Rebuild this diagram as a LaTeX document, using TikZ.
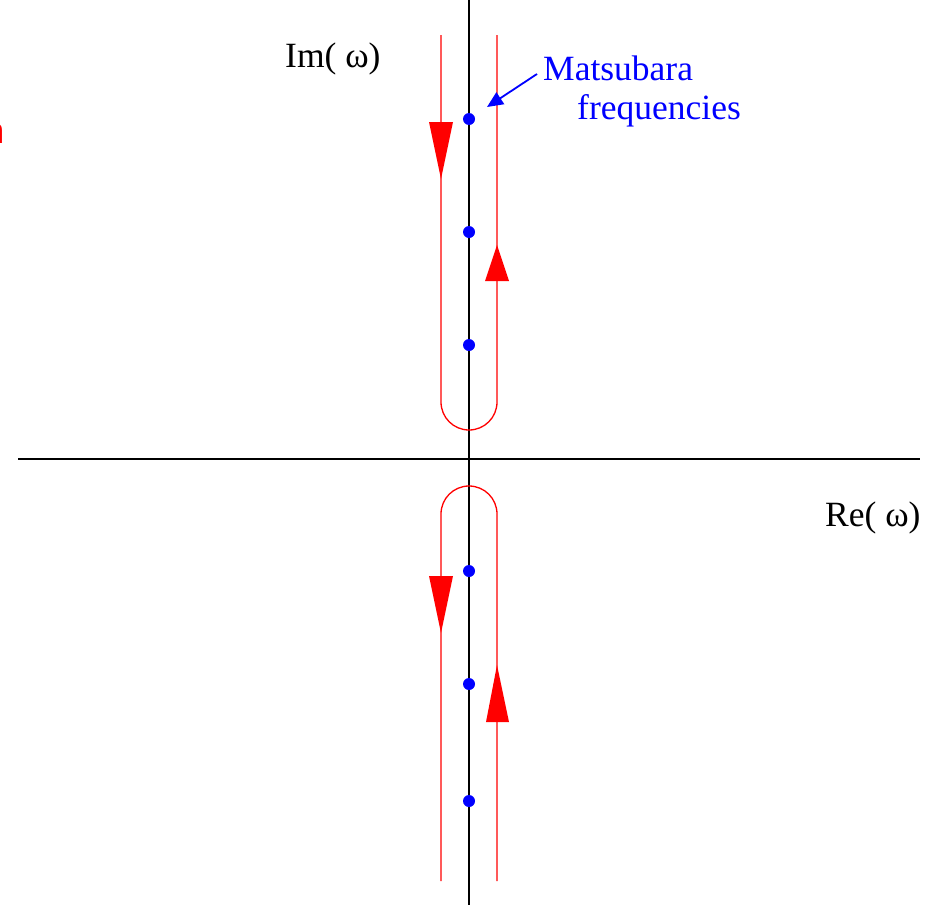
\documentclass[tikz,border=0pt]{standalone}
\usepackage{fontspec}
\setmainfont{Liberation Serif}
\newfontfamily\sansfam{Liberation Sans}
\usetikzlibrary{arrows.meta}
\definecolor{cred}{RGB}{255,0,0}
\definecolor{cblue}{RGB}{0,0,255}
\tikzset{
  contour/.style={draw=cred, line width=1.3pt},
  axisline/.style={draw=black, line width=1.3pt},
  pole/.style={fill=cblue},
  redhead/.style={fill=cred},
  lbl/.style={inner sep=0pt, anchor=base west, font=\fontsize{35.5}{40}\selectfont},
  bluelbl/.style={lbl, text=cblue},
}
\begin{document}
\begin{tikzpicture}[x=1pt,y=-1pt]
\useasboundingbox (0,0) rectangle (944,905);
% axes
\draw[axisline] (469,0) -- (469,905);
\draw[axisline] (18,459) -- (920,459);
% upper contour
\draw[contour] (441,35) -- (441,402) arc[start angle=180, end angle=360, x radius=28, y radius=-28] -- (497,35);
% lower contour
\draw[contour] (441,881) -- (441,514) arc[start angle=180, end angle=0, x radius=28, y radius=-28] -- (497,881);
% arrowheads
\fill[redhead] (429,122) -- (453,122) -- (441,179) -- cycle;
\fill[redhead] (485,281) -- (509,281) -- (497,245) -- cycle;
\fill[redhead] (429,576) -- (453,576) -- (441,633) -- cycle;
\fill[redhead] (486,722) -- (509,722) -- (497,665) -- cycle;
% poles
\foreach \yy in {119,232,345,571,684,801}
  \fill[pole] (469,\yy) circle[radius=6];
% labels
\node[lbl] (im) at (285,67) {Im( ω)};
\node[lbl] (re) at (825,526) {Re( ω)};
\node[bluelbl] (mats) at (543,80) {Matsubara};
\node[bluelbl] (freq) at (577,119) {frequencies};
\node[inner sep=0pt, anchor=base east, text=cred, font=\sansfam\fontsize{36}{40}\selectfont] (frag) at (4.6,143) {n};
\coordinate (tip) at (487,107);
\draw[draw=cblue, line width=1.8pt, -{Triangle[length=16pt,width=14pt]}] (537,74) -- (tip);
\end{tikzpicture}
\end{document}
